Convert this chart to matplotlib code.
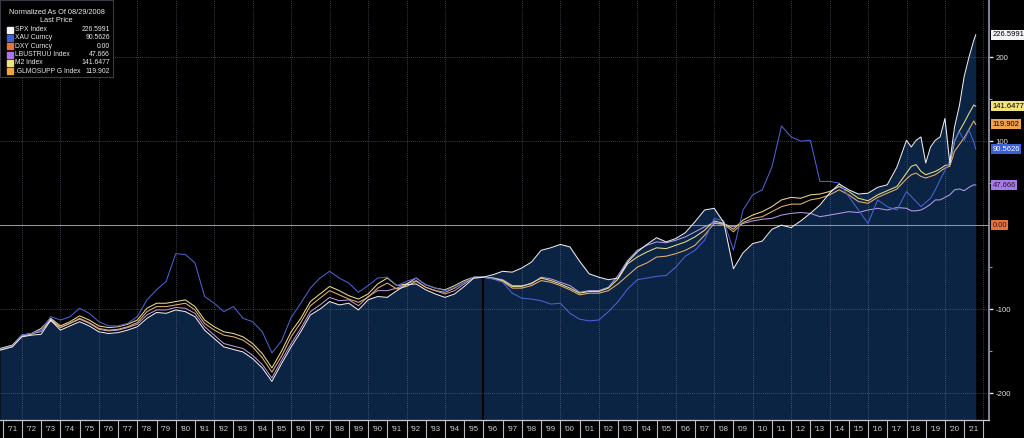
import numpy as np
import matplotlib
matplotlib.use('Agg')
import matplotlib.pyplot as plt
from matplotlib.patches import Rectangle
import matplotlib.transforms as mtransforms

plt.rcParams['font.family'] = ['Liberation Sans', 'DejaVu Sans']

# sample dates (decimal years): half-yearly to 2017.5, quarterly after, then last print
years = np.concatenate([[1970.86], np.arange(1971.5, 2017.75, 0.5),
                        np.arange(2018.0, 2021.55, 0.25), [2021.6]])

spx = [-149, -145, -133, -131, -130, -113, -125, -120, -115, -120,
       -127, -129, -128, -125, -121, -111, -104, -105, -101, -103,
       -109, -125, -135, -145, -148, -151, -159, -170, -186, -165,
       -145, -127, -107, -100, -91, -95, -93, -101, -89, -85,
       -86, -78, -71, -70, -77, -82, -86, -82, -73, -63,
       -62, -59, -55, -56, -51, -44, -30, -27, -23, -26,
       -43, -58, -62, -65, -63, -44, -32, -23, -15, -20,
       -16, -9, 4, 18, 20, 3, -52, -33, -22, -19,
       -5, 0, -3, 5, 14, 24, 38, 49, 42, 37,
       38, 45, 48, 69,
       101, 93, 101, 105, 74, 93, 101, 105, 127, 74, 117, 142, 177, 200, 220,
       226.5991]

xau = [-148, -144, -131, -129, -125, -109, -113, -109, -99, -105,
       -115, -120, -120, -117, -109, -89, -77, -67, -34, -35,
       -45, -85, -93, -103, -97, -111, -115, -127, -152, -138,
       -110, -93, -75, -63, -55, -63, -69, -80, -72, -63,
       -62, -72, -67, -63, -71, -75, -78, -74, -68, -62,
       -62, -64, -68, -81, -87, -88, -90, -94, -93, -105,
       -112, -114, -113, -103, -91, -76, -65, -63, -61, -60,
       -50, -37, -30, -18, 8, 5, -30, 18, 36, 42,
       69, 118, 105, 100, 101, 52, 52, 50, 34, 18,
       2, 30, 22, 18,
       40, 34, 28, 22, 27, 32, 42, 54, 65, 77, 101, 111, 101, 113, 99,
       90.5626]

dxy = [0.0] * len(years)

lbustruu = [-147, -143, -131, -129, -127, -112, -122, -117, -112, -117,
            -124, -126, -125, -122, -118, -107, -101, -101, -98, -99,
            -105, -121, -131, -141, -144, -147, -155, -166, -182, -161,
            -141, -123, -103, -95, -86, -90, -89, -96, -85, -78,
            -78, -75, -70, -66, -74, -78, -82, -78, -70, -62,
            -62, -63, -65, -72, -72, -70, -62, -64, -68, -72,
            -80, -78, -78, -74, -60, -42, -30, -24, -20, -21,
            -18, -14, -8, -2, 3, 1, -2, 2, 5, 7,
            8, 12, 14, 15, 14, 10, 12, 14, 16, 15,
            18, 20, 18, 21,
            20, 17, 17, 18, 21, 25, 30, 30, 33, 36, 42, 43, 41, 45, 48,
            47.666]

m2 = [-147, -143, -131, -129, -123, -111, -120, -115, -108, -113,
      -120, -122, -121, -118, -113, -99, -93, -93, -91, -89,
      -97, -113, -121, -127, -129, -133, -141, -153, -170, -150,
      -127, -111, -91, -82, -73, -78, -84, -88, -82, -70,
      -63, -72, -70, -63, -71, -75, -77, -72, -66, -62,
      -62, -63, -66, -73, -73, -69, -63, -66, -70, -75,
      -81, -79, -79, -75, -64, -46, -38, -32, -27, -28,
      -24, -20, -14, -6, 5, 2, -5, 6, 12, 16,
      22, 30, 33, 32, 36, 37, 40, 46, 40, 32,
      29, 36, 41, 46,
      62, 70, 72, 64, 60, 62, 64, 67, 71, 72, 100, 112, 122, 133, 143,
      141.6477]

glmosupp = [-148, -144, -132, -130, -125, -114, -122, -117, -111, -116,
            -123, -125, -124, -121, -116, -103, -97, -97, -95, -93,
            -101, -117, -125, -131, -133, -137, -145, -158, -175, -156,
            -133, -116, -96, -87, -78, -83, -88, -92, -86, -75,
            -69, -76, -73, -67, -74, -78, -80, -75, -68, -63,
            -62, -64, -67, -75, -75, -72, -66, -68, -72, -77,
            -83, -81, -81, -78, -70, -60, -50, -45, -38, -37,
            -34, -30, -24, -12, 2, 1, -8, 3, 8, 10,
            16, 22, 25, 25, 30, 32, 36, 42, 36, 28,
            26, 33, 38, 43,
            55, 60, 62, 58, 56, 58, 60, 64, 68, 70, 88, 96, 104, 114, 124,
            119.902]

names = ['SPX Index', 'XAU Curncy', 'DXY Curncy', 'LBUSTRUU Index', 'M2 Index', '.GLMOSUPP G Index']
last = ['226.5991', '90.5626', '0.00', '47.666', '141.6477', '119.902']
colors = ['#f4f4f8', '#3a5fd8', '#e8703e', '#a878ec', '#f2e27a', '#f0a24c']
tag_text = ['#000000', '#ffffff', '#202020', '#202020', '#000000', '#000000']
line_colors = ['#ececf4', '#4a62d6', '#d0806a', '#b29ae6', '#e8dc86', '#e8b070']

year_labels = ["'%02d" % (y % 100) for y in range(1971, 2022)]

W, H = 1024, 438
fig = plt.figure(figsize=(W / 100, H / 100), dpi=100, facecolor='black')
ax = fig.add_axes([0, 18 / H, 989 / W, 420 / H])
ax.set_facecolor('black')
ymin, ymax = -232, 268
ax.set_xlim(1970.86, 2022.29)
ax.set_ylim(ymin, ymax)

ax.fill_between(years, spx, ymin, color='#0c2444', lw=0, zorder=1)

for y in range(1972, 2023, 2):
    if y == 1996:
        ax.axvline(y, color='black', lw=1.6, zorder=2)
    else:
        ax.axvline(y, color='#8a94a8', lw=0.6, ls=(0, (1, 1.5)), alpha=0.55, zorder=2)
for v in [-200, -100, 100, 200]:
    ax.axhline(v, color='#8a94a8', lw=0.6, ls=(0, (1, 1.5)), alpha=0.55, zorder=2)

series = [spx, xau, dxy, lbustruu, m2, glmosupp]
order = [2, 3, 5, 4, 1, 0]
for i in order:
    ax.plot(years if i != 2 else [1970.86, 2022.29],
            series[i] if i != 2 else [dxy[0], dxy[-1]],
            color=line_colors[i], lw=0.75, zorder=3 + order.index(i))

# bottom year band
ax.set_xticks([y + 0.5 for y in range(1971, 2022)])
ax.set_xticklabels(year_labels, fontsize=5.6, color='#d0d0d0')
ax.set_xticks(range(1971, 2023), minor=True)
ax.tick_params(axis='x', which='major', length=0, pad=4)
ax.tick_params(axis='x', which='minor', length=13, width=0.8, color='#b8b8c0', direction='out')

# right value axis
ax.yaxis.set_ticks_position('right')
ax.set_yticks([-200, -100, 100, 200])
ax.set_yticklabels(['-200', '-100', '100', '200'], fontsize=5.6, color='#e0e0e0')
ax.set_yticks([-150, -50, 50, 150], minor=True)
ax.tick_params(axis='y', which='major', length=3, width=1, color='#e0e0e0', pad=1.5)
ax.tick_params(axis='y', which='minor', length=2, width=0.8, color='#9090b0')

for s in ['left', 'top']:
    ax.spines[s].set_visible(False)
ax.spines['right'].set_color('#9a98b8')
ax.spines['right'].set_linewidth(1.2)
ax.spines['bottom'].set_color('#c8c8d0')
ax.spines['bottom'].set_linewidth(0.9)

# last-price tags on the right
trans = mtransforms.blended_transform_factory(ax.transAxes, ax.transData)
for i in range(6):
    ax.text(1.0035, series[i][-1], last[i], transform=trans, fontsize=5.5,
            color=tag_text[i], va='center', ha='left', clip_on=False, zorder=20,
            bbox=dict(boxstyle='square,pad=0.2', fc=colors[i], ec='none'))

# legend box top-left
lg = fig.add_axes([0, 1 - 77 / H, 113 / W, 77 / H])
lg.set_xlim(0, 113)
lg.set_ylim(77, 0)
lg.set_facecolor('black')
lg.set_xticks([])
lg.set_yticks([])
for s in lg.spines.values():
    s.set_color('#3a3a44')
    s.set_linewidth(0.8)
lg.text(56.5, 12.7, 'Normalized As Of 08/29/2008', fontsize=5.3, color='#e8e8e8', ha='center', va='center')
lg.text(56.5, 20.7, 'Last Price', fontsize=5.3, color='#e8e8e8', ha='center', va='center')
for i in range(6):
    yy = 29.5 + i * 8.35
    lg.add_patch(Rectangle((6.5, yy - 3), 6, 6, color=colors[i]))
    lg.text(15, yy, names[i], fontsize=4.9, color='#e8e8e8', ha='left', va='center')
    lg.text(110, yy, last[i], fontsize=4.9, color='#e8e8e8', ha='right', va='center')

fig.savefig('out.png', dpi=100, facecolor='black')
